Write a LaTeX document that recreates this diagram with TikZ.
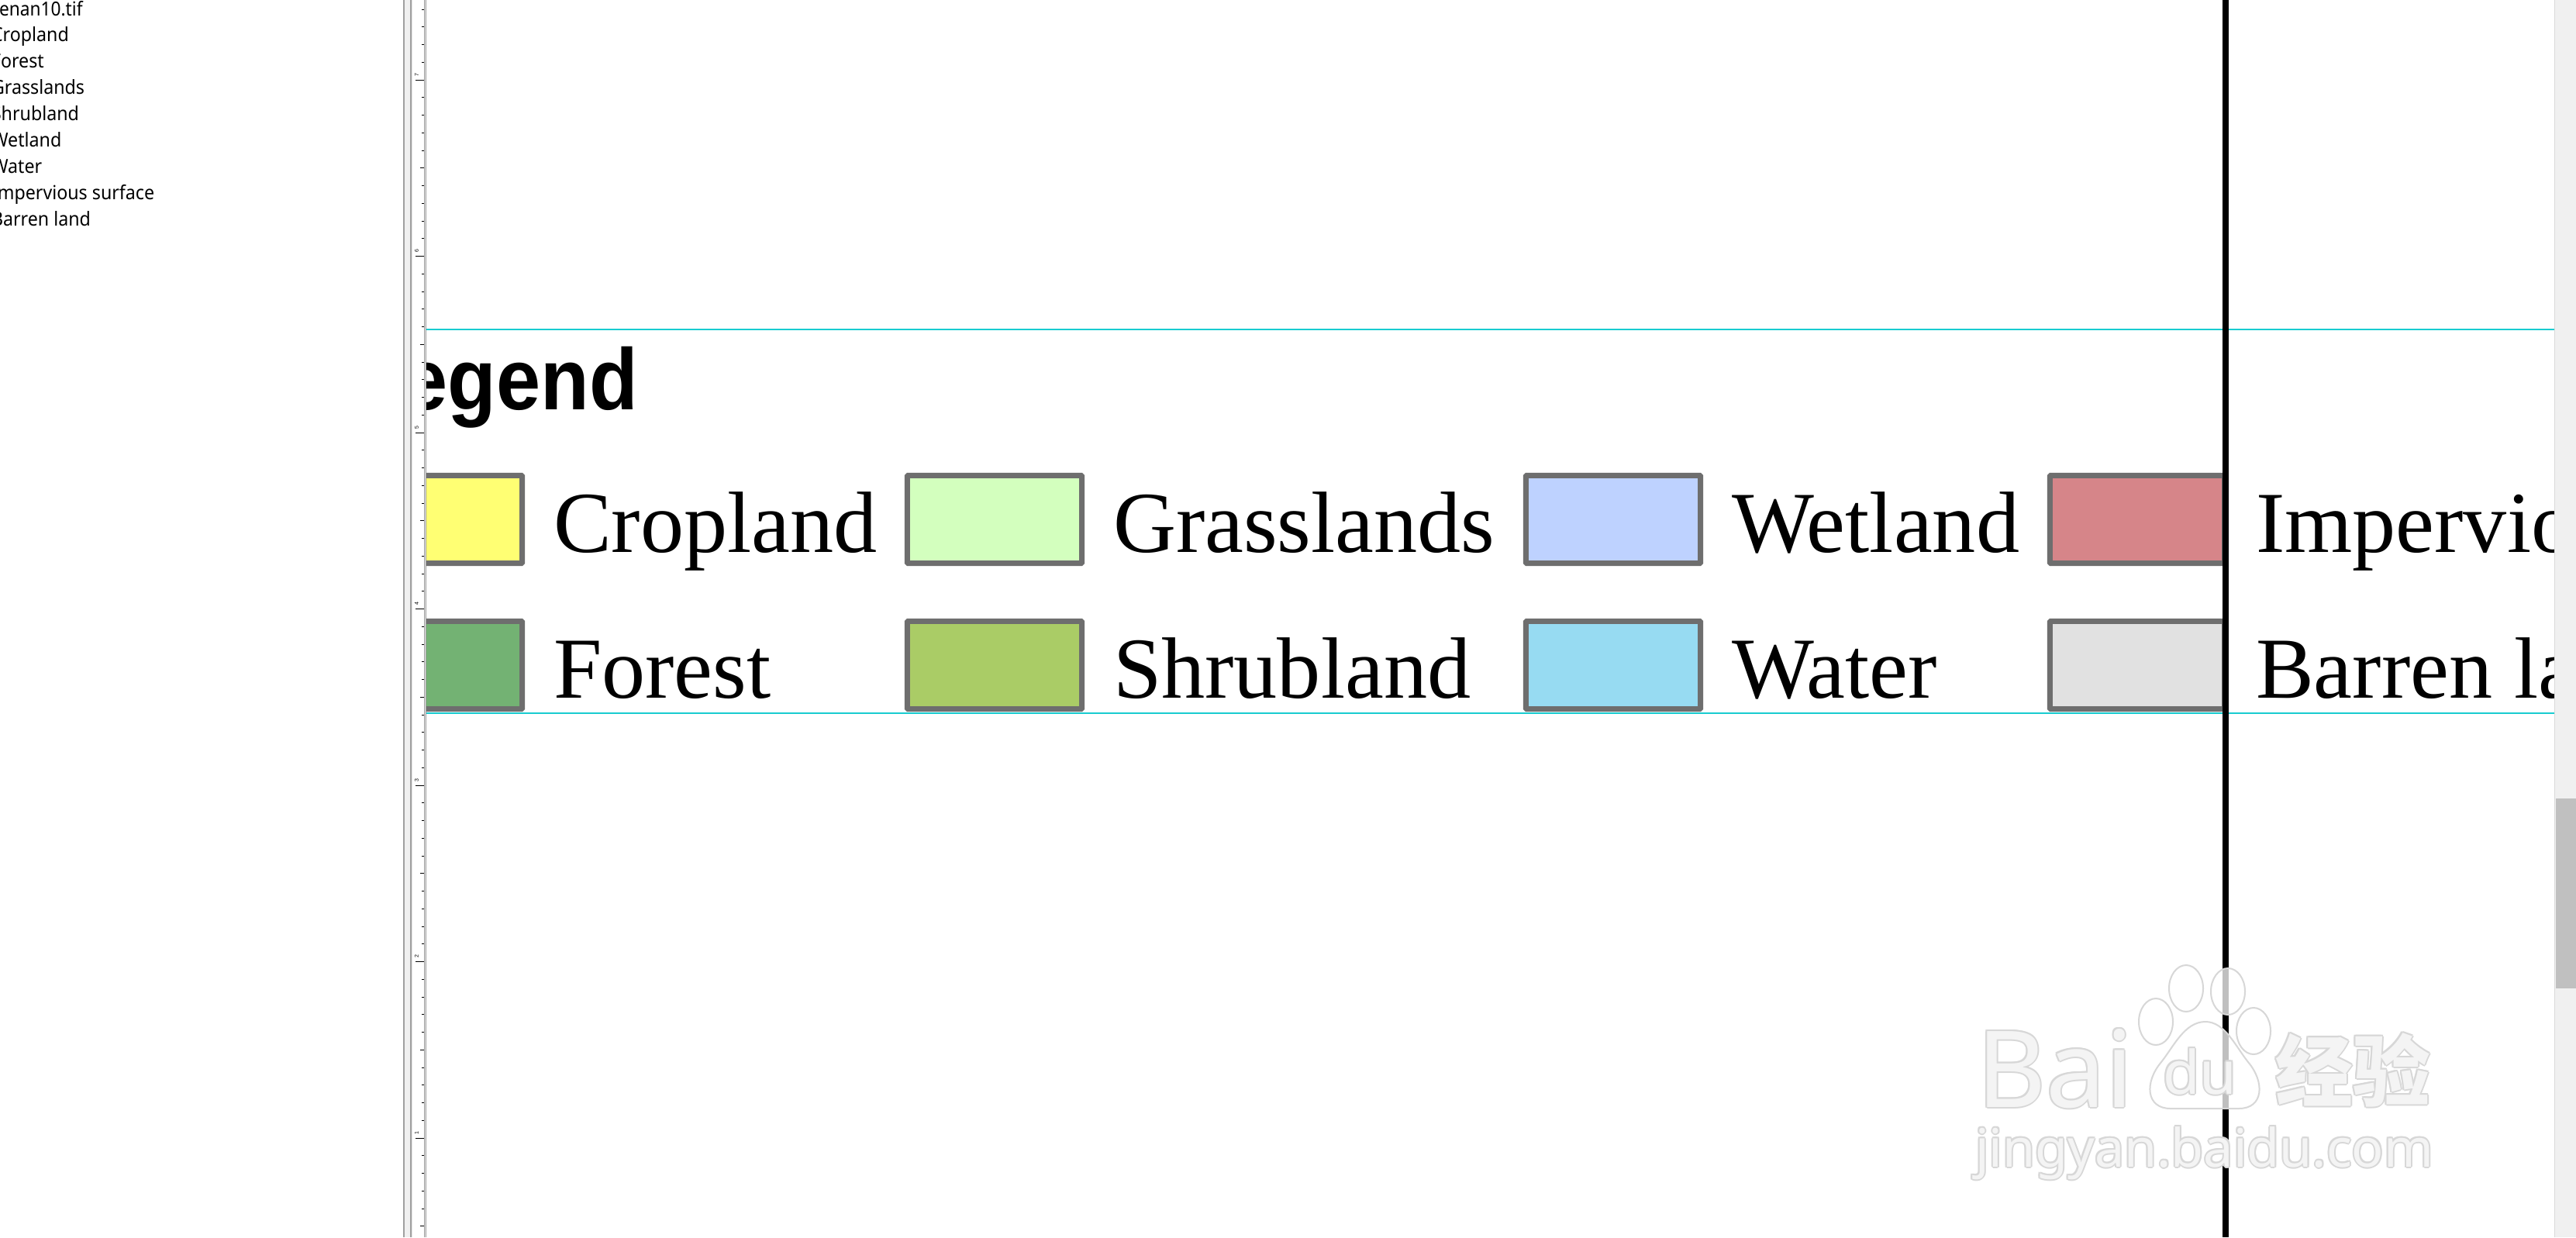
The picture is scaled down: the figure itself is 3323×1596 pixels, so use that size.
\documentclass[tikz,border=0pt]{standalone}
\usepackage{fontspec}
\setmainfont{Liberation Serif}
\newfontfamily\arialfont{Liberation Sans}
\newfontfamily\uifont{Noto Sans}
\newfontfamily\cjk{Noto Sans CJK SC}
\definecolor{cropc}{RGB}{255,255,115}
\definecolor{forestc}{RGB}{115,178,115}
\definecolor{grassc}{RGB}{211,255,190}
\definecolor{shrubc}{RGB}{170,204,102}
\definecolor{wetc}{RGB}{190,210,255}
\definecolor{waterc}{RGB}{151,219,242}
\definecolor{impc}{RGB}{214,133,137}
\definecolor{barrenc}{RGB}{225,225,225}
\definecolor{edgec}{RGB}{110,110,110}
\definecolor{guide}{RGB}{24,204,208}
\definecolor{barbg}{RGB}{240,240,240}
\definecolor{barline}{RGB}{160,160,160}
\definecolor{thumbc}{RGB}{192,192,192}
\definecolor{wmline}{RGB}{215,215,215}
\begin{document}
\begin{tikzpicture}[x=0.01cm,y=-0.01cm]
            \tikzstyle{every node} = [inner sep=0, outer sep=0]
            \tikzstyle{toc} = [anchor=base west, font=\uifont\fontsize{7.1pt}{8pt}\selectfont]
            \tikzstyle{item} = [anchor=base west, font=\fontsize{31.9pt}{34pt}\selectfont]
            \tikzstyle{patch} = [draw=edgec, line width=0.07cm, rounded corners=0.01cm, minimum width=2.25cm, minimum height=1.13cm]
            \tikzstyle{tick} = [line width=0.01cm]
            \tikzstyle{wm} = [text=wmline]
            \tikzstyle{wmfill} = [text=white, text opacity=0.75]
            \useasboundingbox (0,0) rectangle (3323,1596);
            \fill[white] (0,0) rectangle (3323,1596);
            % table of contents
            \begin{scope}
                \clip (0,0) rectangle (519,1596);
                \node[toc] (tif) at (-1,20) {\scalebox{0.91}[1]{enan10.tif}};
                \foreach \t [count=\i] in {Cropland, Forest, Grasslands, Shrubland, Wetland, Water, Impervious surface, Barren land}
                    \node[toc] (toc\i) at (-11,{19+34*\i}) {\scalebox{0.93}[1]{\t}};
            \end{scope}
            % ruler
            \fill[barline] (520,0) rectangle (522,1596);
            \fill[barbg] (522,0) rectangle (529,1596);
            \fill[barline] (529,0) rectangle (530.5,1596);
            \fill[black!10] (530.5,0) rectangle (532,1596);
            \fill[barline] (547,0) rectangle (548,1596);
            \fill[black!10] (548,0) rectangle (549,1596);
            \fill[barline] (549,0) rectangle (550,1596);
            \foreach \n in {5,...,74}
                \draw[tick] (544,{1695.5-22.75*\n}) -- (547,{1695.5-22.75*\n});
            \foreach \k in {1,...,7} {
                \draw[tick] (536,{1695.5-227.5*\k}) -- (547,{1695.5-227.5*\k});
                \draw[tick] (542,{1809.25-227.5*\k}) -- (547,{1809.25-227.5*\k});
                \node[rotate=90, font=\arialfont\fontsize{2pt}{2pt}\selectfont] (r\k) at (537.5,{1689-227.5*\k}) {\k};
            }
            % legend
            \begin{scope}
                \clip (550,0) rectangle (3295,1596);
                \draw[guide, line width=0.02cm] (550,424.5) -- (3295,424.5);
                \draw[guide, line width=0.02cm] (550,920) -- (3295,920);
                \node[anchor=base east, font=\arialfont\bfseries\fontsize{31.9pt}{34pt}\selectfont] (title) at (823,528) {\scalebox{0.915}[1]{Legend}};
                \foreach \x/\y/\c/\t [count=\i] in {445/610/cropc/Cropland, 445/798/forestc/Forest, 1167/610/grassc/Grasslands, 1167/798/shrubc/Shrubland, 1965/610/wetc/Wetland, 1965/798/waterc/Water, 2641/610/impc/Impervious surface, 2641/798/barrenc/Barren land} {
                    \node[patch, fill=\c] (p\i) at (\x+116,\y+60) {};
                    \node[item] (l\i) at (\x+269,\y+102) {\t};
                }
            \end{scope}
            \draw[line width=0.08cm] (2871,0) -- (2871,1596);
            % scroll bar
            \fill[barbg] (3296,0) rectangle (3323,1596);
            \draw[black!15, line width=0.01cm] (3295.5,0) -- (3295.5,1596);
            \fill[thumbc] (3297,1030) rectangle (3323,1275);
            % watermark
            \foreach \e/\a/\b in {toea/2781/1318, toeb/2820/1275, toec/2874/1279, toed/2907/1330}
                \draw[wmline, line width=0.02cm, fill=white, fill opacity=0.75] (\a,\b) ellipse [x radius=22, y radius=30];
            \draw[wmline, line width=0.02cm, fill=white, fill opacity=0.75] (2845,1318) .. controls (2818,1318) and (2804,1350) .. (2788,1370) .. controls (2766,1396) and (2768,1430) .. (2800,1430) -- (2888,1430) .. controls (2920,1430) and (2922,1396) .. (2900,1370) .. controls (2884,1350) and (2870,1318) .. (2845,1318) -- cycle;
            \foreach \dx/\dy in {-2/0, 2/0, 0/-2, 0/2, -1.5/-1.5, 1.5/1.5, -1.5/1.5, 1.5/-1.5} {
                \node[wm, anchor=base west, font=\uifont\bfseries\fontsize{39pt}{40pt}\selectfont] at (2550+\dx,1428+\dy) {Bai};
                \node[wm, font=\uifont\fontsize{22pt}{24pt}\selectfont] at (2838+\dx,1382+\dy) {du};
                \node[wm, font=\cjk\bfseries\fontsize{28.4pt}{30pt}\selectfont] at (3035+\dx,1380+\dy) {经验};
                \node[wm, anchor=base west, font=\uifont\fontsize{19.4pt}{21pt}\selectfont] at (2548+\dx,1505+\dy) {jingyan.baidu.com};
            }
            \node[wmfill, anchor=base west, font=\uifont\bfseries\fontsize{39pt}{40pt}\selectfont] (wmbai) at (2550,1428) {Bai};
            \node[wmfill, font=\uifont\fontsize{22pt}{24pt}\selectfont] (wmdu) at (2838,1382) {du};
            \node[wmfill, font=\cjk\bfseries\fontsize{28.4pt}{30pt}\selectfont] (wmcn) at (3035,1380) {经验};
            \node[wmfill, anchor=base west, font=\uifont\fontsize{19.4pt}{21pt}\selectfont] (wmurl) at (2548,1505) {jingyan.baidu.com};
\end{tikzpicture}
\end{document}
